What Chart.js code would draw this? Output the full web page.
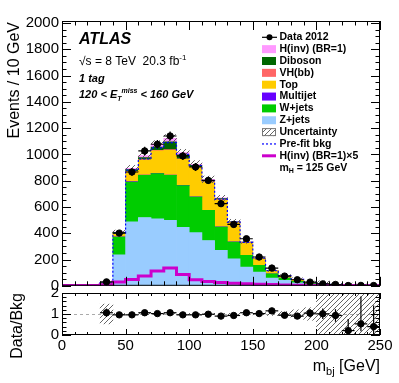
<!DOCTYPE html>
<html lang="en">
<head>
<meta charset="UTF-8">
<title>m_bj distribution, 1 tag</title>
<script src="https://cdn.jsdelivr.net/npm/chart.js@4.4.1/dist/chart.umd.min.js"></script>
<style>
    * { margin: 0; padding: 0; }
    body { background: #fff; width: 399px; height: 383px; position: relative; overflow: hidden; }
    #mainBox { position: absolute; left: 0; top: 0; width: 399px; height: 290px; }
    #ratioBox { position: absolute; left: 0; top: 288px; width: 399px; height: 95px; }
</style>
</head>
<body>
<div id="mainBox"><canvas id="mainChart" width="399" height="290"></canvas></div>
<div id="ratioBox"><canvas id="ratioChart" width="399" height="95"></canvas></div>
<script>
// ---- data (10 GeV bins, 0-250 GeV) ----
const binEdges   = [0,10,20,30,40,50,60,70,80,90,100,110,120,130,140,150,160,170,180,190,200,210,220,230,240,250];
const binCenters = [5,15,25,35,45,55,65,75,85,95,105,115,125,135,145,155,165,175,185,195,205,215,225,235,245];

const dataCounts = [null,null,null,30,401,866,1026,1077,1140,988,904,802,625,467,358,219,135,74,46,28,15,10,2,3,2];
const dataErrors = [null,null,null,5.5,20,29,32,33,34,31,30,28,25,22,19,15,12,9,7,5.3,3.9,3.2,1.4,1.7,1.4];

const zJets    = [0,0,0,8,236,487,520,510,498,445,405,345,269,206,142,104,58,41,22,12,7,5,4,2.7,2.4];
const wJets    = [0,0,0,8,135,303,320,343,342,317,271,229,178,127,89,51,33,17,12,7,4,3,2,1.5,1.3];
const multijet = [0,0,0,0,2,3,2,2,2,2,1,1,1,1,0,0,0,0,0,0,0,0,0,0,0];
const topQuark = [0,0,0,3,24,75,115,172,189,198,220,215,205,145,95,50,22,15,14,6,3,2,1.5,1,0.9];
const vhbb     = [0,0,0,0,1,2,3,4,5,5,4,3,3,2,2,1,0,1,0,0,0,0,0,0,0];
const diboson  = [0,0,0,6,8,14,15,25,59,30,15,10,8,6,4,3,2,2,2,1,1,0.5,0.5,0,0];
const hInv     = [0,0,0,1,5,10,15,22,27,17,9,7,5,4,3,2,2,1,1,1,0,0,0,0,0];
const hInvX5   = [2,2,2,8,28,48,74,112,135,86,46,33,25,20,15,12,10,7,5,4,3,2,2,1,1];
const prefitBkg = [0,0,0,25,400,880,965,1050,1090,1000,915,800,660,485,330,210,115,76,50,26,15,10.5,8,5.2,4.6];

// relative background uncertainty (hatched band)
const uncRel = [null,null,null,0.47,0.03,0.025,0.025,0.025,0.025,0.025,0.03,0.03,0.03,0.03,0.035,0.04,0.07,0.12,0.2,0.3,1.5,1.5,1.5,1.5,1.5];

// ratio panel
const ratioValues = [null,null,null,1.06,0.96,0.96,1.06,1.02,1.06,0.96,0.96,0.99,0.9,0.93,1.06,1.02,1.15,0.94,0.9,1.04,1.01,0.93,0.21,0.53,0.4];
const ratioErrLo  = [null,null,null,0.2,0.05,0.035,0.03,0.03,0.03,0.03,0.03,0.035,0.04,0.045,0.06,0.07,0.1,0.12,0.14,0.2,0.25,0.3,0.21,0.35,0.4];
const ratioErrHi  = [null,null,null,0.2,0.05,0.035,0.03,0.03,0.03,0.03,0.03,0.035,0.04,0.045,0.06,0.07,0.1,0.12,0.14,0.2,0.25,0.3,0.55,1.3,1.0];

const xTickLabels = [0,50,100,150,200,250];
const yTickMain   = [0,200,400,600,800,1000,1200,1400,1600,1800,2000];
const yTickRatio  = [0,1,2];

const FONT = "'Liberation Sans', Arial, Helvetica, sans-serif";

const colors = {
    z: '#99ccff', w: '#00cc00', mj: '#6600ff', top: '#ffcc00',
    vh: '#ff6666', db: '#006600', hinv: '#ff99ff', sig: '#cc00cc', prefit: '#0000ff'
};

function makeHatch() {
    const c = document.createElement('canvas');
    c.width = 5; c.height = 5;
    const g = c.getContext('2d');
    g.strokeStyle = '#555';
    g.lineWidth = 0.9;
    g.beginPath();
    g.moveTo(0, 5); g.lineTo(5, 0);
    g.moveTo(-1, 1); g.lineTo(1, -1);
    g.moveTo(4, 6); g.lineTo(6, 4);
    g.stroke();
    return g.createPattern(c, 'repeat');
}
const hatch = makeHatch();

// text with sub/superscripts: parts = [text, size, dy, weight]
function richText(ctx, parts, x, y, align) {
    let total = 0;
    parts.forEach(p => { ctx.font = p[3] + ' ' + p[1] + 'px ' + FONT; total += ctx.measureText(p[0]).width; });
    let cx = align === 'right' ? x - total : x;
    ctx.textAlign = 'left';
    parts.forEach(p => {
        ctx.font = p[3] + ' ' + p[1] + 'px ' + FONT;
        ctx.fillText(p[0], cx, y + p[2]);
        cx += ctx.measureText(p[0]).width;
    });
}

function line(ctx, x1, y1, x2, y2) {
    ctx.beginPath(); ctx.moveTo(x1, y1); ctx.lineTo(x2, y2); ctx.stroke();
}

// frame + inside ticks on all four sides, ROOT style
const frameTicks = {
    id: 'frameTicks',
    afterDraw(chart, args, o) {
        const { ctx, chartArea: a } = chart;
        const xs = chart.scales.x, ys = chart.scales.y;
        ctx.save();
        ctx.strokeStyle = '#000';
        ctx.lineWidth = 1;
        for (let v = xs.min; v <= xs.max + 1e-9; v += o.xMinor) {
            const px = Math.round(xs.getPixelForValue(v)) + 0.5;
            const major = Math.abs(v / o.xMajor - Math.round(v / o.xMajor)) < 1e-6;
            const len = major ? o.xLen : o.xLen / 2;
            line(ctx, px, a.bottom, px, a.bottom - len);
            line(ctx, px, a.top, px, a.top + len);
        }
        for (let v = ys.min; v <= ys.max + 1e-9; v += o.yMinor) {
            const py = Math.round(ys.getPixelForValue(v)) + 0.5;
            const major = Math.abs(v / o.yMajor - Math.round(v / o.yMajor)) < 1e-6;
            const len = major ? o.yLen : o.yLen / 2;
            line(ctx, a.left, py, a.left + len, py);
            line(ctx, a.right, py, a.right - len, py);
        }
        ctx.strokeRect(a.left + 0.5, a.top + 0.5, a.width - 1, a.height - 1);

        ctx.fillStyle = '#000';
        ctx.font = '15px ' + FONT;
        ctx.textAlign = 'right';
        ctx.textBaseline = 'middle';
        o.yLabels.forEach(v => ctx.fillText(String(v), a.left - 3, ys.getPixelForValue(v)));
        if (o.xLabels) {
            ctx.textAlign = 'center';
            ctx.textBaseline = 'top';
            o.xLabels.forEach(v => ctx.fillText(String(v), xs.getPixelForValue(v), a.bottom + 3));
        }
        ctx.restore();
    }
};

// data points: horizontal bin-width bars and vertical error bars
const dataBars = {
    id: 'dataBars',
    afterDatasetsDraw(chart, args, o) {
        const { ctx } = chart;
        const xs = chart.scales.x, ys = chart.scales[o.axis];
        ctx.save();
        ctx.beginPath();
        ctx.rect(chart.chartArea.left, chart.chartArea.top, chart.chartArea.width, chart.chartArea.height);
        ctx.clip();
        ctx.strokeStyle = '#000';
        ctx.lineWidth = 1.2;
        o.values.forEach((v, i) => {
            if (v === null) return;
            const py = ys.getPixelForValue(v);
            line(ctx, xs.getPixelForValue(binEdges[i]), py, xs.getPixelForValue(binEdges[i + 1]), py);
            const px = xs.getPixelForValue(binCenters[i]);
            line(ctx, px, ys.getPixelForValue(v - o.lo[i]), px, ys.getPixelForValue(v + o.hi[i]));
        });
        ctx.restore();
    }
};

// ---- main panel ----
const stackDefs = [
    ['Z+jets', zJets, colors.z],
    ['W+jets', wJets, colors.w],
    ['Multijet', multijet, colors.mj],
    ['Top', topQuark, colors.top],
    ['VH(bb)', vhbb, colors.vh],
    ['Diboson', diboson, colors.db],
    ['H(inv) (BR=1)', hInv, colors.hinv]
];

const stackTotal = binCenters.map((_, i) => stackDefs.reduce((s, d) => s + d[1][i], 0));

const mainDatasets = stackDefs.map(d => ({
    type: 'bar',
    label: d[0],
    data: binCenters.map((x, i) => ({ x: x, y: d[1][i] })),
    backgroundColor: d[2],
    borderWidth: 0,
    barPercentage: 1,
    categoryPercentage: 1,
    grouped: false,
    stack: 'bkg',
    yAxisID: 'y',
    order: 10
}));

mainDatasets.push({
    type: 'bar',
    label: 'Uncertainty',
    data: binCenters.map((x, i) => ({ x: x, y: uncRel[i] === null ? null : [stackTotal[i] * (1 - uncRel[i]), stackTotal[i] * (1 + uncRel[i])] })),
    backgroundColor: hatch,
    borderWidth: 0,
    barPercentage: 1,
    categoryPercentage: 1,
    grouped: false,
    stack: 'bkg',
    yAxisID: 'y2',
    order: 5
});

mainDatasets.push({
    type: 'line',
    label: 'Pre-fit bkg',
    data: binEdges.map((e, i) => ({ x: e, y: prefitBkg[Math.min(i, prefitBkg.length - 1)] })),
    borderColor: colors.prefit,
    borderWidth: 1.2,
    borderDash: [2, 2],
    stepped: 'before',
    pointRadius: 0,
    fill: false,
    yAxisID: 'y2',
    order: 3
});

mainDatasets.push({
    type: 'line',
    label: 'H(inv) (BR=1)x5',
    data: binEdges.map((e, i) => ({ x: e, y: hInvX5[Math.min(i, hInvX5.length - 1)] })),
    borderColor: colors.sig,
    borderWidth: 3,
    stepped: 'before',
    pointRadius: 0,
    fill: false,
    yAxisID: 'y2',
    order: 2
});

mainDatasets.push({
    type: 'scatter',
    label: 'Data 2012',
    data: binCenters.map((x, i) => ({ x: x, y: dataCounts[i] })).filter(p => p.y !== null),
    backgroundColor: '#000',
    borderColor: '#000',
    pointRadius: 3.2,
    pointHoverRadius: 3.2,
    yAxisID: 'y2',
    order: 0
});

const mainLabels = {
    id: 'mainLabels',
    afterDraw(chart) {
        const ctx = chart.ctx;
        ctx.save();
        ctx.fillStyle = '#000';
        ctx.textBaseline = 'alphabetic';

        richText(ctx, [['ATLAS', 16, 0, 'italic bold']], 79, 44);
        richText(ctx, [['\u221As = 8 TeV  20.3 fb', 12, 0, 'normal'], ['-1', 8, -5, 'normal']], 79, 65);
        richText(ctx, [['1 tag', 11, 0, 'italic bold']], 79, 82);
        richText(ctx, [['120 < E', 11, 0, 'italic bold'], ['T', 7, 3, 'italic bold'], ['miss', 7, -5, 'italic bold'], [' < 160 GeV', 11, 0, 'italic bold']], 79, 98);

        // y axis title
        ctx.save();
        ctx.translate(19, 22);
        ctx.rotate(-Math.PI / 2);
        ctx.font = '16px ' + FONT;
        ctx.textAlign = 'right';
        ctx.fillText('Events / 10 GeV', 0, 0);
        ctx.restore();

        // legend
        const rows = [
            ['Data 2012', 'data'], ['H(inv) (BR=1)', colors.hinv], ['Diboson', colors.db], ['VH(bb)', colors.vh],
            ['Top', colors.top], ['Multijet', colors.mj], ['W+jets', colors.w], ['Z+jets', colors.z],
            ['Uncertainty', 'hatch'], ['Pre-fit bkg', 'prefit'], ['H(inv) (BR=1)\u00d75', 'sig'], ['mH', 'none']
        ];
        const x0 = 262, x1 = 276, tx = 279.5;
        rows.forEach((r, k) => {
            const y = 37.3 + k * 11.85;
            const kind = r[1];
            if (kind === 'data') {
                ctx.strokeStyle = '#000'; ctx.lineWidth = 1.2;
                line(ctx, x0, y, x1 + 1, y);
                ctx.beginPath(); ctx.arc((x0 + x1 + 1) / 2, y, 3, 0, Math.PI * 2); ctx.fill();
            } else if (kind === 'hatch') {
                ctx.fillStyle = hatch; ctx.fillRect(x0, y - 4, x1 - x0, 8);
                ctx.strokeStyle = '#777'; ctx.lineWidth = 1;
                ctx.strokeRect(x0 + 0.5, y - 3.5, x1 - x0 - 1, 7);
                ctx.fillStyle = '#000';
            } else if (kind === 'prefit') {
                ctx.strokeStyle = colors.prefit; ctx.lineWidth = 1.2; ctx.setLineDash([2, 2]);
                line(ctx, x0, y, x1, y);
                ctx.setLineDash([]);
            } else if (kind === 'sig') {
                ctx.strokeStyle = colors.sig; ctx.lineWidth = 3;
                line(ctx, x0, y, x1, y);
            } else if (kind !== 'none') {
                ctx.fillStyle = kind; ctx.fillRect(x0, y - 4, x1 - x0, 8);
                ctx.fillStyle = '#000';
            }
            ctx.fillStyle = '#000';
            ctx.textBaseline = 'middle';
            if (kind === 'none') {
                richText(ctx, [['m', 10.5, 0, 'bold'], ['H', 7, 3, 'bold'], [' = 125 GeV', 10.5, 0, 'bold']], tx, y);
            } else {
                richText(ctx, [[r[0], 10.5, 0, 'bold']], tx, y);
            }
        });
        ctx.restore();
    }
};

new Chart(document.getElementById('mainChart'), {
    type: 'bar',
    data: { datasets: mainDatasets },
    options: {
        responsive: false,
        animation: false,
        events: [],
        layout: { padding: { left: 62, right: 19, top: 21, bottom: 3 } },
        scales: {
            x: { type: 'linear', min: 0, max: 250, offset: false, display: false, ticks: { stepSize: 50 } },
            y: { min: 0, max: 2015, stacked: true, display: false },
            y2: { min: 0, max: 2015, stacked: false, display: false }
        },
        plugins: {
            legend: { display: false },
            tooltip: { enabled: false },
            frameTicks: { xMajor: 50, xMinor: 10, xLen: 9, yMajor: 200, yMinor: 50, yLen: 9, yLabels: yTickMain, xLabels: null },
            dataBars: { axis: 'y2', values: dataCounts, lo: dataErrors, hi: dataErrors }
        }
    },
    plugins: [frameTicks, dataBars, mainLabels]
});

// ---- ratio panel ----
const ratioExtras = {
    id: 'ratioExtras',
    beforeDatasetsDraw(chart) {
        const { ctx, chartArea: a } = chart;
        const py = Math.round(chart.scales.y.getPixelForValue(1)) + 0.5;
        ctx.save();
        ctx.strokeStyle = '#aaa';
        ctx.lineWidth = 1;
        ctx.setLineDash([3, 3]);
        line(ctx, a.left, py, a.right, py);
        ctx.restore();
    },
    afterDraw(chart) {
        const { ctx, chartArea: a } = chart;
        ctx.save();
        ctx.fillStyle = '#000';
        ctx.textBaseline = 'alphabetic';
        ctx.save();
        ctx.translate(22, 5);
        ctx.rotate(-Math.PI / 2);
        ctx.font = '16px ' + FONT;
        ctx.textAlign = 'right';
        ctx.fillText('Data/Bkg', 0, 0);
        ctx.restore();
        richText(ctx, [['m', 16, 0, 'normal'], ['bj', 11, 4, 'normal'], [' [GeV]', 16, 0, 'normal']], a.right, 83, 'right');
        ctx.restore();
    }
};

new Chart(document.getElementById('ratioChart'), {
    type: 'bar',
    data: {
        datasets: [
            {
                type: 'bar',
                label: 'Uncertainty',
                data: binCenters.map((x, i) => ({ x: x, y: uncRel[i] === null ? null : [1 - uncRel[i], 1 + uncRel[i]] })),
                backgroundColor: hatch,
                borderWidth: 0,
                barPercentage: 1,
                categoryPercentage: 1,
                grouped: false,
                order: 2
            },
            {
                type: 'scatter',
                label: 'Data/Bkg',
                data: binCenters.map((x, i) => ({ x: x, y: ratioValues[i] })).filter(p => p.y !== null),
                backgroundColor: '#000',
                borderColor: '#000',
                pointRadius: 3.2,
                order: 0
            }
        ]
    },
    options: {
        responsive: false,
        animation: false,
        events: [],
        layout: { padding: { left: 62, right: 19, top: 5, bottom: 48 } },
        scales: {
            x: { type: 'linear', min: 0, max: 250, offset: false, display: false, ticks: { stepSize: 50 } },
            y: { min: 0, max: 2, display: false }
        },
        plugins: {
            legend: { display: false },
            tooltip: { enabled: false },
            frameTicks: { xMajor: 50, xMinor: 10, xLen: 6, yMajor: 1, yMinor: 0.2, yLen: 9, yLabels: yTickRatio, xLabels: xTickLabels },
            dataBars: { axis: 'y', values: ratioValues, lo: ratioErrLo, hi: ratioErrHi }
        }
    },
    plugins: [frameTicks, dataBars, ratioExtras]
});
</script>
</body>
</html>
